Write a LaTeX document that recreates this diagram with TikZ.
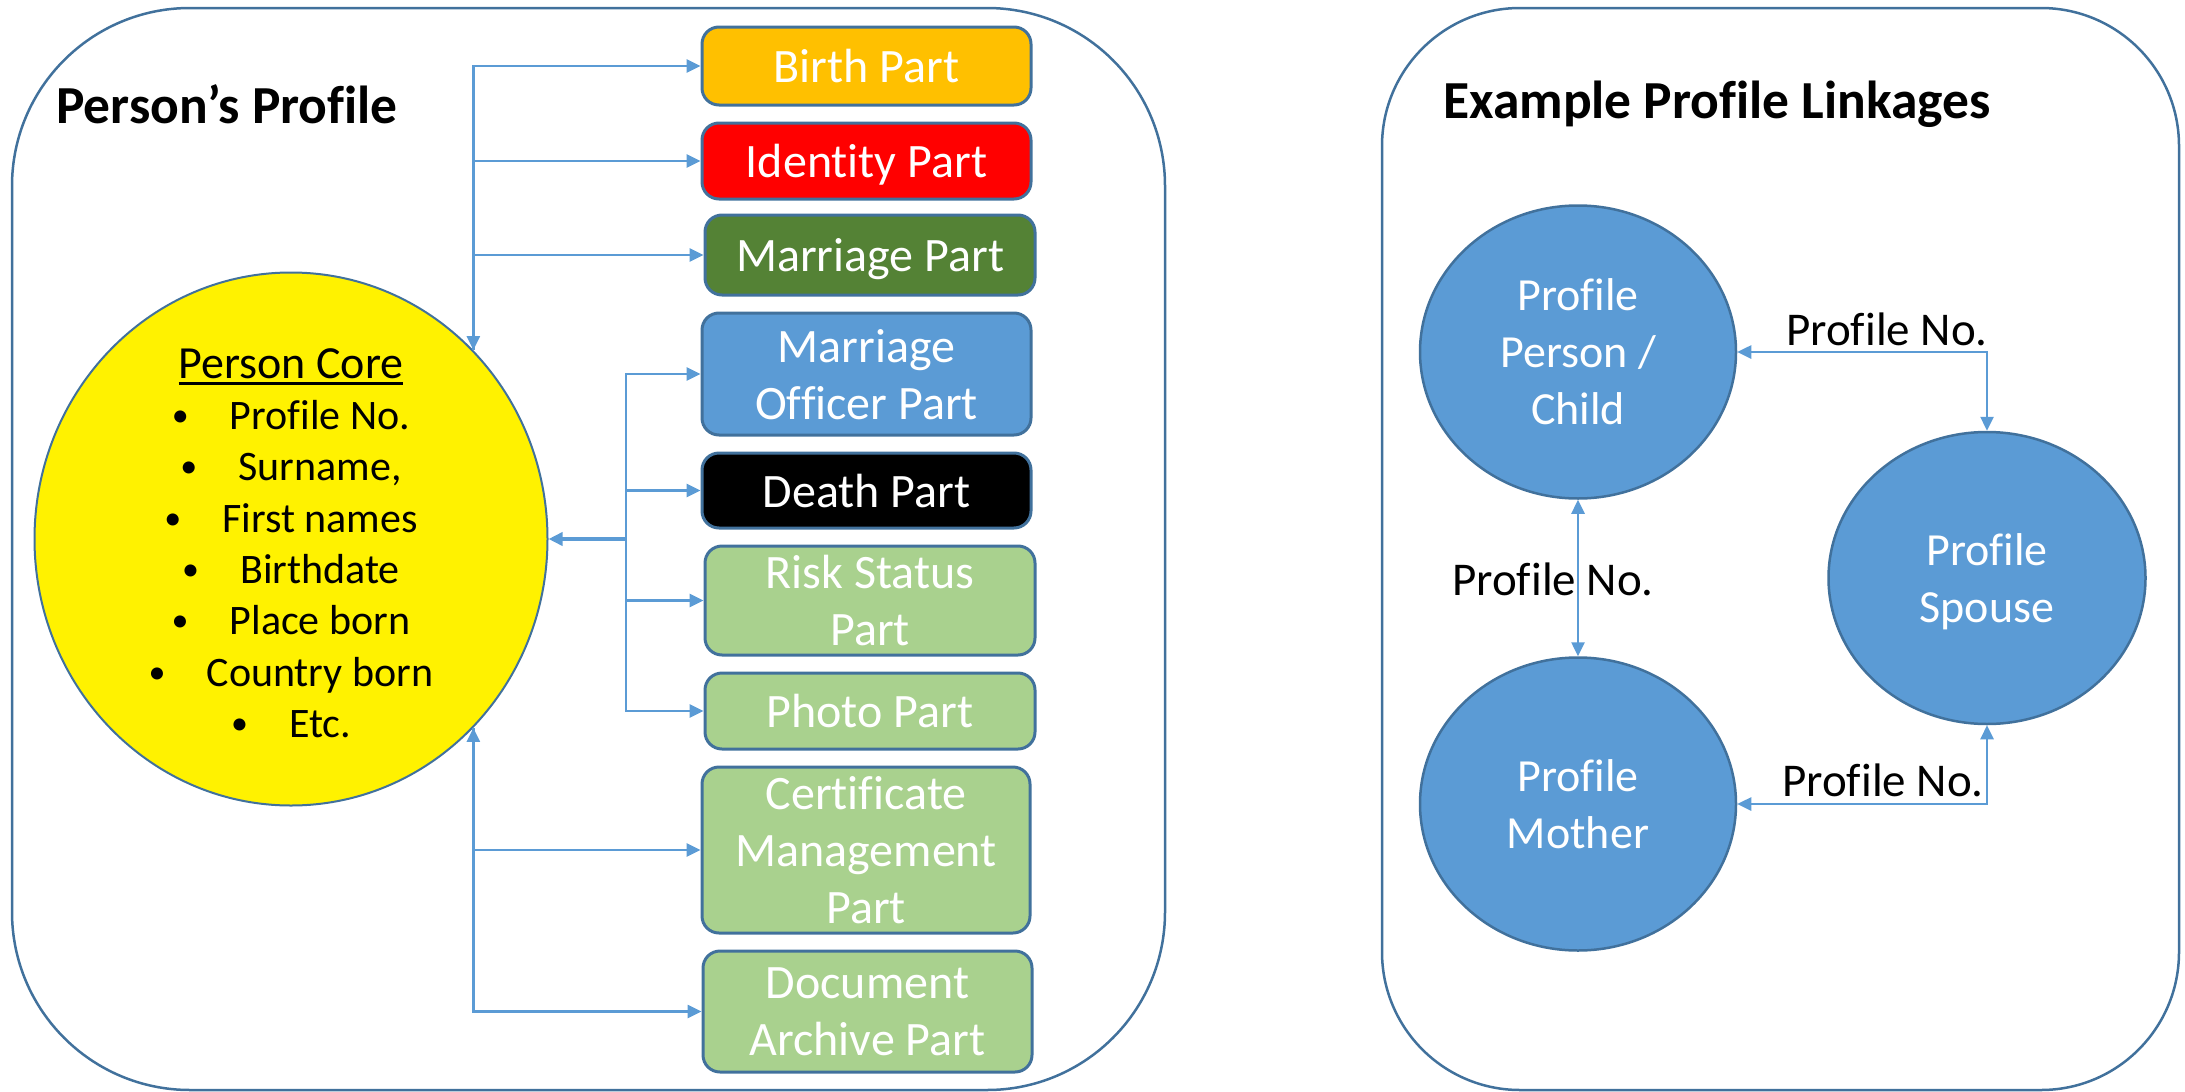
\documentclass[tikz,border=0pt]{standalone}
\usepackage{fontspec}
\setmainfont{Carlito}[Ligatures=NoCommon]
\usetikzlibrary{arrows.meta,shapes.geometric}
\definecolor{edgeblue}{HTML}{41719C}
\definecolor{connblue}{HTML}{5B9BD5}
\definecolor{orangefill}{HTML}{FFC000}
\definecolor{greenfill}{HTML}{548235}
\definecolor{lightgreen}{HTML}{A9D18E}
\newsavebox\pcbox
\newcommand\corebul{\makebox[58pt][l]{\raisebox{3pt}{\fontsize{34pt}{34pt}\selectfont\textbullet}}}
\begin{document}
\begin{tikzpicture}[x=1pt,y=-1pt,
  >={Triangle[length=14pt,width=13pt]},
  panel/.style={draw=edgeblue,line width=2.5pt,rectangle,inner sep=0pt,minimum height=1082pt},
  partbox/.style={draw=edgeblue,line width=3pt,rectangle,rounded corners=17pt,inner sep=0pt,
    text=white,align=center,text depth=0pt,font=\fontsize{48pt}{57pt}\selectfont},
  profell/.style={ellipse,draw=edgeblue,line width=2.5pt,fill=connblue,inner sep=0pt,
    minimum width=316pt,minimum height=293pt,text=white,align=center,text depth=0pt,
    font=\fontsize{46pt}{57pt}\selectfont},
  conn/.style={draw=connblue,line width=2.6pt},
  titletext/.style={anchor=base west,inner sep=0pt,font=\fontsize{53.5pt}{60pt}\selectfont\bfseries},
  coreline/.style={anchor=base,inner sep=0pt,font=\fontsize{42pt}{50pt}\selectfont},
  linklabel/.style={inner sep=0pt,font=\fontsize{47pt}{56pt}\selectfont}
]
\useasboundingbox (0,0) rectangle (2185,1092);

% panels
\node[panel,rounded corners=178pt,minimum width=1153pt] (leftpanel) at (588.5,549) {};
\node[panel,rounded corners=138pt,minimum width=797pt] (rightpanel) at (1780.5,549) {};

% titles
\node[titletext] (ltitle) at (56,123) {Person’s Profile};
\node[titletext] (rtitle) at (1443,118) {Example Profile Linkages};

% core ellipse
\node[ellipse,draw=edgeblue,line width=2pt,fill=yellow,inner sep=0pt,
      minimum width=513pt,minimum height=533pt] (core) at (291,539) {};
\node[anchor=base,inner sep=0pt,font=\fontsize{46pt}{56pt}\selectfont] (pc) at (291,378)
  {\sbox\pcbox{Person Core}\usebox\pcbox\llap{\rule[-7pt]{\wd\pcbox}{3.5pt}}};
\node[coreline] (c1) at (291,429) {\corebul Profile No.};
\node[coreline] (c2) at (291,480) {\corebul Surname,};
\node[coreline] (c3) at (291,532) {\corebul First names};
\node[coreline] (c4) at (291,583) {\corebul Birthdate};
\node[coreline] (c5) at (291,634) {\corebul Place born};
\node[coreline] (c6) at (291,686) {\corebul Country born};
\node[coreline] (c7) at (291,737) {\corebul Etc.};

% part boxes
\node[partbox,fill=orangefill,minimum width=329pt,minimum height=78pt] (birth) at (866.5,66) {Birth Part};
\node[partbox,fill=red,minimum width=329pt,minimum height=76pt] (identity) at (866.5,161) {Identity Part};
\node[partbox,fill=greenfill,minimum width=330pt,minimum height=80pt] (marriage) at (870,255) {Marriage Part};
\node[partbox,fill=connblue,minimum width=329pt,minimum height=122pt] (officer) at (866.5,374) {Marriage\\Officer Part};
\node[partbox,fill=black,minimum width=329pt,minimum height=75pt] (death) at (866.5,490.5) {Death Part};
\node[partbox,fill=lightgreen,minimum width=330pt,minimum height=109pt] (risk) at (870,600.5) {Risk Status\\Part};
\node[partbox,fill=lightgreen,minimum width=330pt,minimum height=76pt] (photo) at (870,711) {Photo Part};
\node[partbox,fill=lightgreen,minimum width=328pt,minimum height=166pt] (cert) at (866,850) {Certificate\\Management\\Part};
\node[partbox,fill=lightgreen,minimum width=329pt,minimum height=121pt] (docarch) at (867.5,1011.5) {Document\\Archive Part};

% left connectors
\coordinate (topjoin) at (core.46.2);
\coordinate (botjoin) at (core.-46.2);
\coordinate (hub) at (626,539);
\draw[conn,<->] (topjoin) |- (birth.west);
\draw[conn,->] (topjoin) |- (identity.west);
\draw[conn,->] (topjoin) |- (marriage.west);
\draw[conn,line width=4pt,<-] (core.east) -- (hub);
\draw[conn,->] (hub) |- (officer.west);
\draw[conn,->] (hub) |- (death.west);
\draw[conn,->] (hub) |- (risk.west);
\draw[conn,->] (hub) |- (photo.west);
\draw[conn,<->] (botjoin) |- (docarch.west);
\draw[conn,->] (botjoin) |- (cert.west);

% right side
\node[profell] (child) at (1578,352) {Profile\\Person /\\Child};
\node[profell] (mother) at (1578,804) {Profile\\Mother};
\node[profell,minimum width=317pt,minimum height=292pt] (spouse) at (1987,578) {Profile\\Spouse};

\node[linklabel,anchor=base east] (lab1) at (1988,345) {Profile No.};
\node[linklabel,anchor=base west] (lab2) at (1452,595) {Profile No.};
\node[linklabel,anchor=base east] (lab3) at (1984,796) {Profile No.};

\draw[conn,<->] (child.east) -| (spouse.north);
\draw[conn,<->] (child.south) -- (mother.north);
\draw[conn,<->] (mother.east) -| (spouse.south);
\end{tikzpicture}
\end{document}
